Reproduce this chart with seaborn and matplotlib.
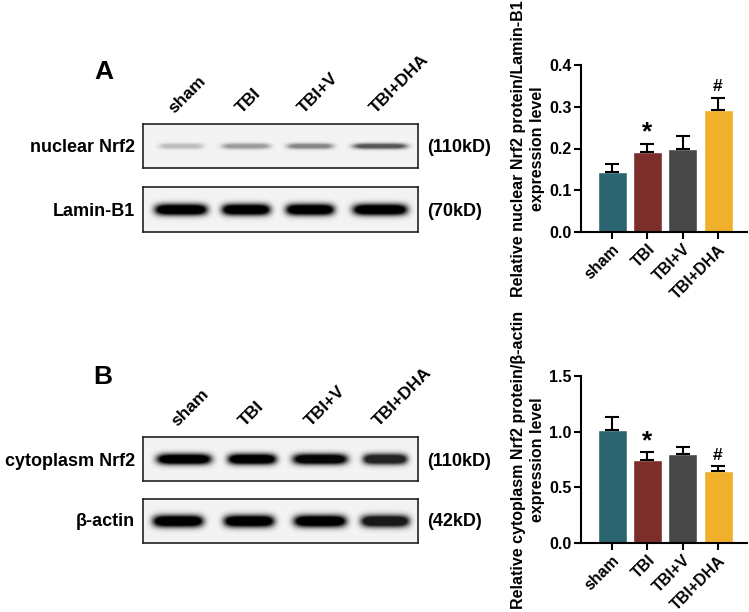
import numpy as np
import pandas as pd
import seaborn as sns
import matplotlib.pyplot as plt

groups = ['sham', 'TBI', 'TBI+V', 'TBI+DHA']
colors = ['#2b6670', '#7b2e2a', '#474747', '#f0b02c']

nuc_mean = [0.144, 0.191, 0.200, 0.292]
nuc_err = [0.020, 0.020, 0.031, 0.030]
nuc_marks = ['', '*', '', '#']

cyt_mean = [1.015, 0.745, 0.798, 0.648]
cyt_err = [0.113, 0.068, 0.066, 0.045]
cyt_marks = ['', '*', '', '#']

# blot band darkness per lane (0 = none, 1 = black)
nrf2_nuc_bands = [0.22, 0.36, 0.45, 0.65]
laminb1_bands = [1.0, 1.0, 1.0, 1.0]
nrf2_cyt_bands = [1.0, 1.0, 0.97, 0.85]
actin_bands = [1.0, 1.0, 1.0, 0.9]

sns.set_style('white')
plt.rcParams['font.family'] = ['Liberation Sans', 'DejaVu Sans']
plt.rcParams['font.weight'] = 'bold'
plt.rcParams['text.color'] = 'black'
plt.rcParams['axes.labelcolor'] = 'black'
plt.rcParams['xtick.color'] = 'black'
plt.rcParams['ytick.color'] = 'black'

W, H = 749, 612
fig = plt.figure(figsize=(W / 100, H / 100), dpi=100)


def px_axes(x0, y0, x1, y1):
    return fig.add_axes([x0 / W, 1 - y1 / H, (x1 - x0) / W, (y1 - y0) / H])


def draw_blot(x0, y0, x1, y1, darkness, centers, halfw, thick, gain, cy_off=0):
    ax = px_axes(x0, y0, x1, y1)
    w, h = int(x1 - x0) * 3, int(y1 - y0) * 3
    xx, yy = np.meshgrid(np.arange(w) / 3, np.arange(h) / 3)
    bg = 0.955
    img = np.full((h, w), bg)
    cy = (y1 - y0) / 2 + cy_off
    for d, c, hw in zip(darkness, centers, halfw):
        q = (np.abs(xx - c) / hw) ** 6 + ((yy - cy) / thick) ** 2
        img -= d * bg * np.clip(gain * np.exp(-q), 0, 1)
    ax.imshow(np.clip(img, 0, 1), cmap='gray', vmin=0, vmax=1, aspect='auto',
              interpolation='bilinear')
    ax.set_xticks([])
    ax.set_yticks([])
    for s in ax.spines.values():
        s.set_linewidth(1.2)
        s.set_color('#222222')
    return ax


def lane_labels(xs, y):
    for g, x in zip(groups, xs):
        fig.text(x / W, 1 - y / H, g, rotation=45, rotation_mode='anchor',
                 ha='left', va='baseline', fontsize=12.5, fontweight='bold')


def side_labels(left, right, y):
    fig.text(135 / W, 1 - y / H, left, ha='right', va='center',
             fontsize=13, fontweight='bold')
    fig.text(427 / W, 1 - y / H, right, ha='left', va='center',
             fontsize=13, fontweight='bold')


# panel A blots
fig.text(104 / W, 1 - 72 / H, 'A', ha='center', va='center', fontsize=19, fontweight='bold')
lane_labels([174, 242, 304, 376], 114)
draw_blot(143, 124, 418, 168, nrf2_nuc_bands, [38, 103, 167, 237], [22, 24, 23, 27], 2.8, 1.3)
draw_blot(143, 187, 418, 232, laminb1_bands, [38, 103, 167, 237], [26, 24, 24, 27], 5.5, 1.6)
side_labels('nuclear Nrf2', '(110kD)', 148)
side_labels('Lamin-B1', '(70kD)', 212)

# panel B blots
fig.text(103 / W, 1 - 377 / H, 'B', ha='center', va='center', fontsize=19, fontweight='bold')
lane_labels([177, 245, 311, 379], 427)
draw_blot(143, 437, 418, 481, nrf2_cyt_bands, [41, 109, 177, 242], [27, 24, 27, 22], 5.2, 1.6)
draw_blot(143, 499, 418, 543, actin_bands, [35, 106, 177, 242], [25, 25, 26, 24], 5.8, 1.6)
side_labels('cytoplasm Nrf2', '(110kD)', 461)
side_labels('β-actin', '(42kD)', 522)


def bar_panel(ax, mean, err, marks, ylim, ticks, ylabel):
    df = pd.DataFrame({'group': groups, 'value': mean})
    sns.barplot(data=df, x='group', y='value', hue='group', palette=colors,
                width=0.82, ax=ax, legend=False, saturation=1)
    ax.errorbar(range(4), mean, yerr=[[0] * 4, err], fmt='none', ecolor='black',
                elinewidth=1.5, capsize=5, capthick=1.5, zorder=1)
    for i, (m, e, t) in enumerate(zip(mean, err, marks)):
        if t == '*':
            ax.text(i, m + e - ylim * 0.005, t, ha='center', va='bottom',
                    fontsize=19, fontweight='bold')
        elif t:
            ax.text(i, m + e + ylim * 0.02, t, ha='center', va='bottom',
                    fontsize=12.5, fontweight='bold')
    ax.set_xlim(-0.88, 3.82)
    ax.set_ylim(0, ylim)
    ax.set_yticks(ticks)
    ax.set_yticklabels([f'{t:.1f}' for t in ticks], fontsize=11.5, fontweight='bold')
    ax.set_xticks(range(4))
    ax.set_xticklabels(groups, rotation=45, ha='right', rotation_mode='anchor',
                       fontsize=11.5, fontweight='bold')
    ax.set_xlabel('')
    ax.set_ylabel(ylabel, fontsize=11.5, fontweight='bold', linespacing=1.3, labelpad=3)
    sns.despine(ax=ax)
    for s in ['left', 'bottom']:
        ax.spines[s].set_linewidth(1.5)
        ax.spines[s].set_color('black')
    ax.tick_params(axis='both', direction='out', length=5, width=1.5, color='black',
                   left=True, bottom=True, pad=2)


ax1 = px_axes(581, 65, 747, 232)
bar_panel(ax1, nuc_mean, nuc_err, nuc_marks, 0.4, [0.0, 0.1, 0.2, 0.3, 0.4],
          'Relative nuclear Nrf2 protein/Lamin-B1\nexpression level')

ax2 = px_axes(581, 376, 747, 543)
bar_panel(ax2, cyt_mean, cyt_err, cyt_marks, 1.5, [0.0, 0.5, 1.0, 1.5],
          'Relative cytoplasm Nrf2 protein/β-actin\nexpression level')

fig.savefig('out.png', dpi=100)
